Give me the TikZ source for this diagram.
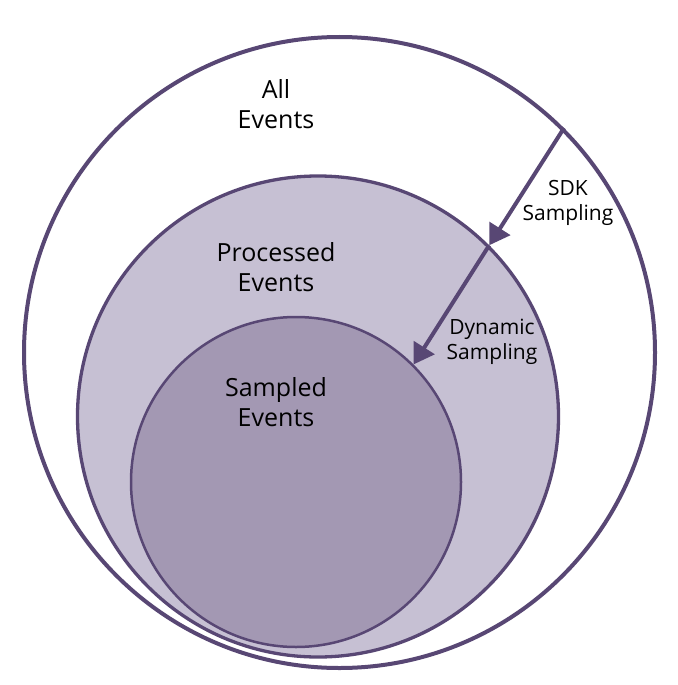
\documentclass[tikz,border=0pt]{standalone}
\usepackage{fontspec}
\setmainfont{Open Sans}
\usetikzlibrary{arrows.meta}
\definecolor{edge}{HTML}{584774}
\definecolor{midfill}{HTML}{C6C0D3}
\definecolor{innerfill}{HTML}{A398B3}
\begin{document}
\begin{tikzpicture}[x=1pt,y=-1pt,
  ring/.style={circle,draw=edge,inner sep=0pt},
  biglabel/.style={align=center,font=\fontsize{25}{30}\selectfont,text=black},
  smalllabel/.style={align=center,font=\fontsize{21}{25}\selectfont,text=black},
  arr/.style={draw=edge,line width=4pt,-{Triangle[length=20pt,width=24pt]}}]
\useasboundingbox (0,0) rectangle (677,685);
\node[ring,line width=4pt,fill=white,minimum size=631pt] (outer) at (339.5,352.5) {};
\node[ring,line width=3.3pt,fill=midfill,minimum size=481pt] (mid) at (318,416.5) {};
\node[ring,line width=2.5pt,fill=innerfill,minimum size=330pt] (inner) at (296,482) {};
\draw[arr] (outer.45) -- (mid.45);
\draw[arr] (mid.45) -- (inner.45);
\node[biglabel] (allt) at (276,104) {All\\Events};
\node[biglabel] (proct) at (276,267) {Processed\\Events};
\node[biglabel] (sampt) at (276,402) {Sampled\\Events};
\node[smalllabel] (sdkt) at (568,203) {SDK\\Sampling};
\node[smalllabel] (dynt) at (492,342) {Dynamic\\Sampling};
\end{tikzpicture}
\end{document}
